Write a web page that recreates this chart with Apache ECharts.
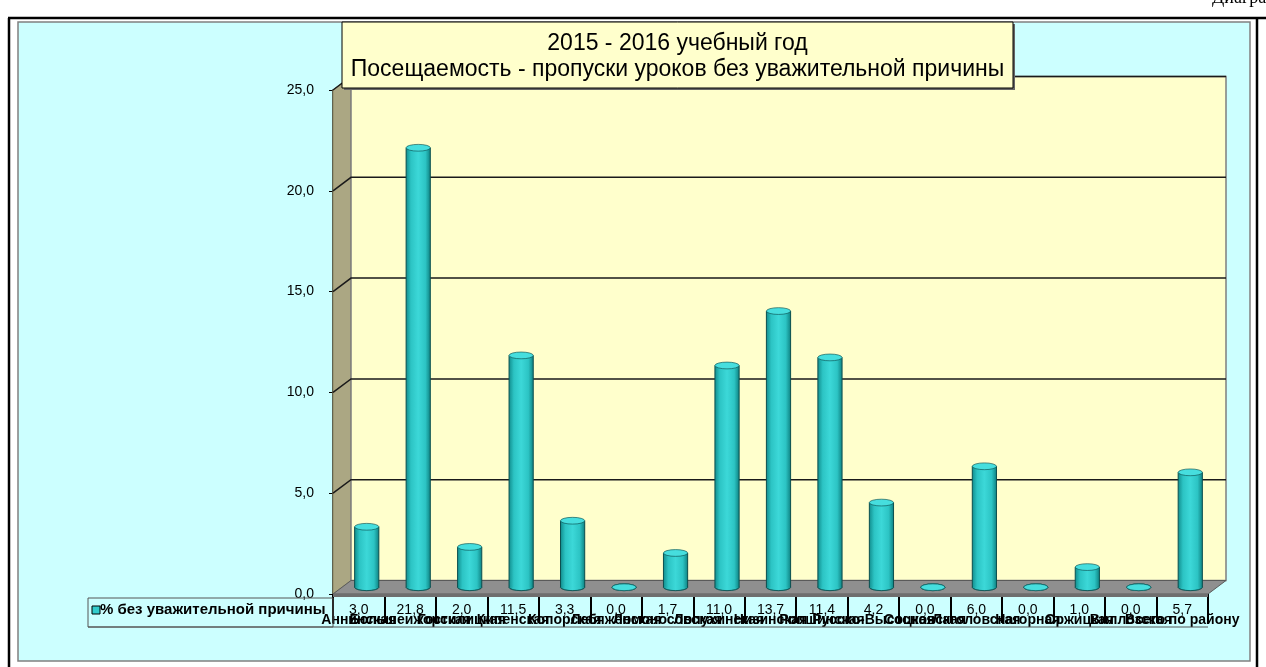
<!DOCTYPE html>
<html><head><meta charset="utf-8">
<script src="https://cdn.jsdelivr.net/npm/echarts@6/dist/echarts.min.js"></script>
<style>html,body{margin:0;padding:0;background:#fff}#c{width:1266px;height:667px}</style>
</head><body><div id="c"></div>
<script>
const categories = ['Аннинская','Большеижорская','Гостилицкая','Кипенская','Копорская','Лебяженская','Ломоносовская','Лопухинская','Низинская','Ропшинская','Русско-Высоцкая','Сосновская','Лаголовская','Нагорная','Оржицкая','Виллозская','Всего по району'];
const values = [3.0, 21.8, 2.0, 11.5, 3.3, 0.0, 1.7, 11.0, 13.7, 11.4, 4.2, 0.0, 6.0, 0.0, 1.0, 0.0, 5.7];
const yTicks = [0, 5, 10, 15, 20, 25];
const seriesName = '% без уважительной причины';
const titleLines = ['2015 - 2016 учебный год', 'Посещаемость - пропуски уроков без уважительной причины'];
const pageCaption = 'Диаграмма';

const fmt = v => v.toFixed(1).replace('.', ',');
const valueLabels = values.map(fmt);
const DX = 18, DY = -13.5;

const chart = echarts.init(document.getElementById('c'), null, {renderer: 'canvas'});
const option = {
  backgroundColor: '#fff',
  animation: false,
  grid: {left: 333, right: 58, top: 90, bottom: 73},
  xAxis: [
    {type: 'category', data: valueLabels, position: 'bottom', offset: 4,
     axisLine: {show: true, lineStyle: {color: '#000', width: 1}},
     axisTick: {show: true, length: 29, lineStyle: {color: '#000', width: 2}},
     axisLabel: {interval: 0, fontSize: 14, fontFamily: 'Arial', color: '#000', margin: 5}},
    {type: 'category', data: categories, position: 'bottom',
     axisLine: {show: false}, axisTick: {show: false},
     axisLabel: {interval: 0, fontSize: 14, fontWeight: 'bold', fontFamily: 'Arial', color: '#000', margin: 19}}
  ],
  yAxis: {type: 'value', min: yTicks[0], max: yTicks[yTicks.length - 1], interval: 5,
    axisLine: {show: true, lineStyle: {color: '#000', width: 1.5}},
    axisTick: {show: true, length: 4, lineStyle: {color: '#000'}},
    splitLine: {show: false},
    axisLabel: {formatter: v => fmt(v), fontSize: 14, fontFamily: 'Arial', color: '#000', margin: 19}},
  series: [{
    type: 'custom', name: seriesName, xAxisIndex: 1, z: 5,
    data: values.map((v, i) => [i, v]),
    renderItem: function (params, api) {
      const i = api.value(0), v = api.value(1);
      const top = api.coord([i, v]), bot = api.coord([i, 0]);
      const bw = api.size([1, 0])[0];
      const r = bw * 0.235;
      const cx = top[0] + DX / 2 - 1, ty = top[1] + DY / 2, by = bot[1] + DY / 2;
      const ry = r * 0.28;
      const grad = {type: 'linear', x: 0, y: 0, x2: 1, y2: 0, colorStops: [
        {offset: 0, color: '#128f8f'}, {offset: 0.2, color: '#2cc4c4'}, {offset: 0.5, color: '#3cd8d8'},
        {offset: 0.8, color: '#2cc4c4'}, {offset: 1, color: '#0f8484'}]};
      const children = [
        {type: 'circle', shape: {cx: 0, cy: 0, r: r}, x: cx, y: by, scaleY: ry / r,
         style: {fill: grad, stroke: '#0b4f4f', lineWidth: 1}},
      ];
      if (by - ty > 0.5) {
        children.push({type: 'rect', shape: {x: cx - r, y: ty, width: 2 * r, height: by - ty}, style: {fill: grad}});
        children.push({type: 'line', shape: {x1: cx - r, y1: ty, x2: cx - r, y2: by}, style: {stroke: '#0b4f4f', lineWidth: 1}});
        children.push({type: 'line', shape: {x1: cx + r, y1: ty, x2: cx + r, y2: by}, style: {stroke: '#0b4f4f', lineWidth: 1}});
      }
      children.push({type: 'circle', shape: {cx: 0, cy: 0, r: r}, x: cx, y: ty, scaleY: ry / r,
        style: {fill: '#46dede', stroke: '#0b4f4f', lineWidth: 1}});
      return {type: 'group', children: children};
    }
  }]
};
chart.setOption(option);

const c0 = chart.convertToPixel({xAxisIndex: 1}, 0);
const c1 = chart.convertToPixel({xAxisIndex: 1}, 1);
const bwp = c1 - c0;
const L = c0 - bwp / 2;
const R = chart.convertToPixel({xAxisIndex: 1}, categories.length - 1) + bwp / 2;
const y0 = chart.convertToPixel({yAxisIndex: 0}, yTicks[0]);
const yT = chart.convertToPixel({yAxisIndex: 0}, yTicks[yTicks.length - 1]);

const g = [];
g.push({type: 'rect', shape: {x: 18, y: 22, width: 1232, height: 639}, style: {fill: '#ccffff', stroke: '#808080', lineWidth: 1.5}, z: 0});
g.push({type: 'line', shape: {x1: 8, y1: 18, x2: 1266, y2: 18}, style: {stroke: '#000', lineWidth: 2.5}, z: 0});
g.push({type: 'line', shape: {x1: 9, y1: 18, x2: 9, y2: 667}, style: {stroke: '#000', lineWidth: 2.5}, z: 0});
g.push({type: 'line', shape: {x1: 1257, y1: 18, x2: 1257, y2: 667}, style: {stroke: '#000', lineWidth: 2.5}, z: 0});
g.push({type: 'text', x: 1212, y: -11, style: {text: pageCaption, font: '18px "Liberation Serif", serif', fill: '#000', letterSpacing: 6}, z: 0});
g.push({type: 'polygon', shape: {points: [[L, yT], [L + DX, yT + DY], [L + DX, y0 + DY], [L, y0]]},
  style: {fill: '#aba783', stroke: '#8a8660', lineWidth: 1}, z: 1});
g.push({type: 'rect', shape: {x: L + DX, y: yT + DY, width: R - L, height: y0 - yT}, style: {fill: '#ffffcc', stroke: '#7f7f7f', lineWidth: 1.5}, z: 1});
yTicks.forEach(t => {
  const y = chart.convertToPixel({yAxisIndex: 0}, t);
  if (t === yTicks[0]) return;
  g.push({type: 'polyline', shape: {points: [[L, y], [L + DX, y + DY], [R + DX, y + DY]]}, style: {stroke: '#1a1a1a', lineWidth: 1.5, fill: null}, z: 2});
});
g.push({type: 'polygon', shape: {points: [[L, y0], [R, y0], [R + DX, y0 + DY], [L + DX, y0 + DY]]},
  style: {fill: '#8f8f8f', stroke: '#5a5a5a', lineWidth: 1}, z: 2});
g.push({type: 'rect', shape: {x: L, y: y0, width: R - L, height: 3}, style: {fill: '#6e6e6e'}, z: 2});
g.push({type: 'rect', shape: {x: 88, y: y0 + 4, width: L - 88, height: 29}, style: {fill: 'none', stroke: '#555', lineWidth: 1}, z: 3});
g.push({type: 'line', shape: {x1: 88, y1: y0 + 33, x2: R, y2: y0 + 33}, style: {stroke: '#555', lineWidth: 1}, z: 3});
g.push({type: 'rect', shape: {x: 92, y: y0 + 12, width: 8, height: 8}, style: {fill: '#33cccc', stroke: '#000', lineWidth: 1}, z: 3});
g.push({type: 'text', x: 100, y: y0 + 16, style: {text: seriesName, font: 'bold 15px Arial', fill: '#000', verticalAlign: 'middle'}, z: 3});
g.push({type: 'rect', shape: {x: 344, y: 24, width: 671, height: 66}, style: {fill: '#666'}, z: 9});
g.push({type: 'rect', shape: {x: 342, y: 22, width: 671, height: 66}, style: {fill: '#ffffcc', stroke: '#000', lineWidth: 1}, z: 10});
g.push({type: 'text', x: 677.5, y: 44, style: {text: titleLines[0], font: '23px Arial', fill: '#000', align: 'center', verticalAlign: 'middle'}, z: 11});
g.push({type: 'text', x: 677.5, y: 70, style: {text: titleLines[1], font: '23px Arial', fill: '#000', align: 'center', verticalAlign: 'middle'}, z: 11});

chart.setOption({graphic: {elements: g}});
</script></body></html>
